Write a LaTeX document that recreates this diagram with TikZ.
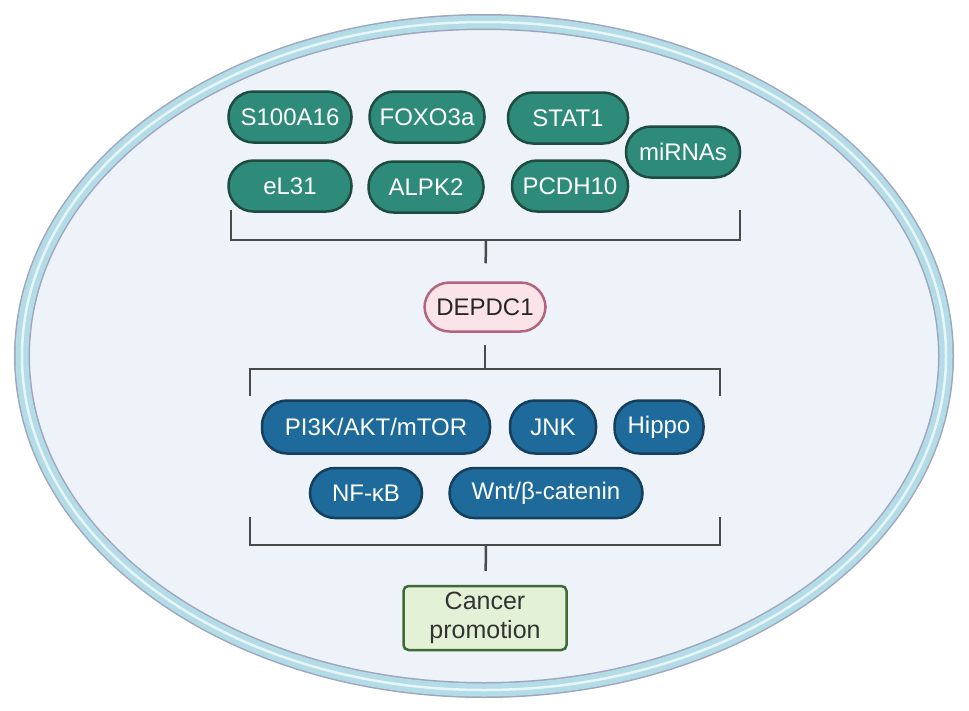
\documentclass[tikz,border=0pt]{standalone}
\usepackage{fontspec}
\setmainfont{Liberation Sans}
\usepackage{tikz}
\usetikzlibrary{positioning}
\usepackage{xcolor}

\definecolor{cellfill}{HTML}{EEF3F9}
\definecolor{membrane}{HTML}{B3DCE7}
\definecolor{membraneedge}{HTML}{9EA7BF}
\definecolor{tealfill}{HTML}{2E8B7A}
\definecolor{tealedge}{HTML}{1E4C43}
\definecolor{bluefill}{HTML}{1E6A9A}
\definecolor{blueedge}{HTML}{163F5D}
\definecolor{pinkfill}{HTML}{FBE3EA}
\definecolor{pinkedge}{HTML}{B4657E}
\definecolor{greenfill}{HTML}{E3F2D6}
\definecolor{greenedge}{HTML}{3F6A35}
\definecolor{bracketgray}{HTML}{4A4A4A}

\begin{document}
\begin{tikzpicture}[
    x=1pt, y=-1pt,
    pill/.style={rounded corners=25pt, minimum height=51pt, line width=2.5pt, text=white,
        font=\fontsize{24}{28}\selectfont, inner sep=0pt},
    regulator/.style={pill, fill=tealfill, draw=tealedge},
    pathway/.style={pill, fill=bluefill, draw=blueedge, minimum height=53pt},
    target/.style={pill, fill=pinkfill, draw=pinkedge, text=black!85, minimum height=49pt},
    outcome/.style={draw=greenedge, fill=greenfill, rounded corners=5pt, line width=2.5pt,
        minimum width=163pt, minimum height=64pt, align=center, text=black!80,
        font=\fontsize{25}{29}\selectfont, inner sep=0pt},
    bracket/.style={draw=bracketgray, line width=2.5pt}
]
    \useasboundingbox (0,0) rectangle (969,710);

    % cell
    \fill[white] (0,0) rectangle (969,710);
    \fill[cellfill] (484,356) ellipse [x radius=462pt, y radius=334pt];
    \draw[membraneedge, line width=16pt] (484,356) ellipse [x radius=462pt, y radius=334pt];
    \draw[membrane, line width=13pt] (484,356) ellipse [x radius=462pt, y radius=334pt];
    \draw[white!70!membrane, line width=2.5pt] (484,356) ellipse [x radius=462pt, y radius=334pt];

    % upstream regulators
    \node[regulator, minimum width=123pt] (s100) at (290,117) {S100A16};
    \node[regulator, minimum width=115pt] (foxo) at (427,117) {FOXO3a};
    \node[regulator, minimum width=120pt] (stat) at (568,118) {STAT1};
    \node[regulator, minimum width=114pt] (mirna) at (683,152) {miRNAs};
    \node[regulator, minimum width=123pt] (el31) at (290,186) {eL31};
    \node[regulator, minimum width=115pt] (alpk) at (426,187) {ALPK2};
    \node[regulator, minimum width=116pt] (pcdh) at (570,186) {PCDH10};

    \node[target, minimum width=121pt] (dep) at (485,307) {DEPDC1};

    % downstream pathways
    \node[pathway, minimum width=228pt] (pi3k) at (376,427) {PI3K/AKT/mTOR};
    \node[pathway, minimum width=86pt] (jnk) at (553,427) {JNK};
    \node[pathway, minimum width=89pt] (hippo) at (659,427) {Hippo};
    \node[pathway, minimum width=112pt, minimum height=50pt] (nfkb) at (366,493) {NF-κB};
    \node[pathway, minimum width=193pt, minimum height=50pt] (wnt) at (546,493) {Wnt/β-catenin};

    \node[outcome] (cancer) at (485,618) {Cancer\\promotion};

    % brackets
    \coordinate (topmid) at (486,240);
    \coordinate (midmid) at (485,369);
    \coordinate (botmid) at (486,545);

    \draw[bracket] (231,210) |- (740,240) -- (740,210);
    \draw[bracket, shorten >=18pt] (topmid) -- (dep);
    \draw[bracket, shorten <=12pt] (dep) -- (midmid);
    \draw[bracket] (250,396) |- (720,369) -- (720,396);
    \draw[bracket] (250,517) |- (720,545) -- (720,517);
    \draw[bracket, shorten >=14pt] (botmid) -- (cancer);
\end{tikzpicture}
\end{document}
